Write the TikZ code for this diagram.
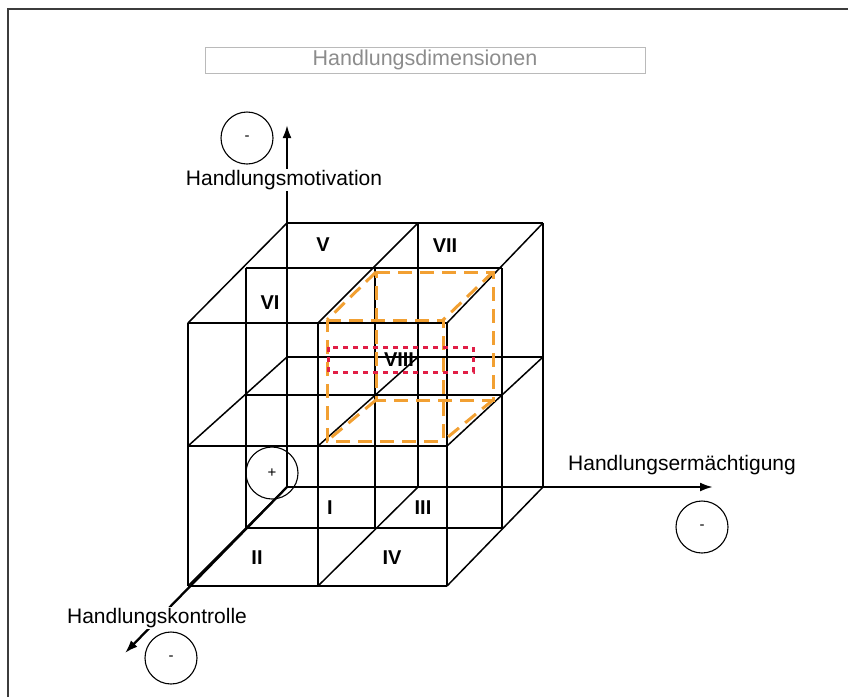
\documentclass[tikz,border=0pt]{standalone}
\usepackage{fontspec}
\setmainfont{Liberation Sans}
\usetikzlibrary{arrows.meta}
\begin{document}
\begin{tikzpicture}[x=1pt, y=-1pt,
    grid/.style={line width=1.5pt},
    axis/.style={line width=2.3pt, -{Latex[length=13pt, width=9pt]}},
    axislabel/.style={fill=white, inner sep=1pt, font=\fontsize{21}{25}\selectfont},
    sign/.style={draw, circle, line width=1.1pt, minimum size=52pt, inner sep=0pt, font=\fontsize{15}{17}\selectfont},
    octant/.style={font=\bfseries\fontsize{20}{24}\selectfont},
    kubus/.style={draw=kuborange, line width=3pt, dash pattern=on 14pt off 8pt}]

    \useasboundingbox (0,0) rectangle (848,697);

    % colours
    \definecolor{kuborange}{RGB}{242, 160, 50}
    \definecolor{markred}{RGB}{225, 30, 70}
    \definecolor{titlegray}{RGB}{140, 140, 140}
    \definecolor{framegray}{RGB}{60, 60, 60}

    % frame
    \draw [framegray, line width=1.5pt] (8,697) -- (8,9) -- (848,9);

    % title
    \node [draw=titlegray!60, text=titlegray, minimum width=440pt, minimum height=26pt, inner sep=0pt, font=\fontsize{21.5}{25}\selectfont] (title) at (425,60) {Handlungsdimensionen};

    % lattice points c<depth><column><row>
    \foreach \k/\xa/\xb/\xc/\ya/\yb/\yc in {0/287/418/543/223/357/487, 1/246/375/502/268/395/528, 2/188/318/447/323/446/586}{
        \foreach \i/\x in {0/\xa, 1/\xb, 2/\xc}{
            \foreach \j/\y in {0/\ya, 1/\yb, 2/\yc}{
                \coordinate (c\k\i\j) at (\x,\y);
            }
        }
    }

    % cube
    \foreach \k in {0,1,2}{
        \foreach \m in {0,1,2}{
            \draw [grid] (c\k0\m) -- (c\k2\m);
            \draw [grid] (c\k\m0) -- (c\k\m2);
            \draw [grid] (c0\k\m) -- (c2\k\m);
        }
    }

    % marked octant
    \coordinate (ob1) at (376,272);
    \coordinate (ob2) at (493,272);
    \coordinate (ob3) at (493,400);
    \coordinate (ob4) at (376,400);
    \coordinate (of1) at (327,320);
    \coordinate (of2) at (443,320);
    \coordinate (of3) at (443,441);
    \coordinate (of4) at (327,441);
    \draw [kubus] (ob1) -- (ob2) -- (ob3) -- (ob4) -- cycle;
    \draw [kubus] (of1) -- (of2) -- (of3) -- (of4) -- cycle;
    \foreach \n in {1,...,4} \draw [kubus] (ob\n) -- (of\n);

    \draw [markred, line width=3pt, dash pattern=on 5pt off 5pt] (328,347) rectangle (473,372);

    % axes
    \coordinate (mottip) at (287,125);
    \coordinate (ermtip) at (713,487);
    \coordinate (kontip) at (125,653);
    \draw [axis] (c002) -- (mottip);
    \draw [axis] (c002) -- (ermtip);
    \draw [axis] (c002) -- (kontip);

    \node [axislabel] (motlabel) at (284,180) {Handlungsmotivation};
    \node [axislabel] (ermlabel) at (682,465) {Handlungsermächtigung};
    \node [axislabel] (konlabel) at (157,618) {Handlungskontrolle};

    % signs
    \node [sign] (motsign) at (247,138) {-};
    \node [sign] (ermsign) at (702,527) {-};
    \node [sign] (konsign) at (171,658) {-};
    \node [sign] (origsign) at (272,473) {+};

    % octants
    \node [octant] (oV) at (323,245) {V};
    \node [octant] (oVII) at (445,246) {VII};
    \node [octant] (oVI) at (270,303) {VI};
    \node [octant] (oVIII) at (399,360) {VIII};
    \node [octant] (oI) at (330,508) {I};
    \node [octant] (oIII) at (423,508) {III};
    \node [octant] (oII) at (257,558) {II};
    \node [octant] (oIV) at (392,558) {IV};

\end{tikzpicture}
\end{document}
